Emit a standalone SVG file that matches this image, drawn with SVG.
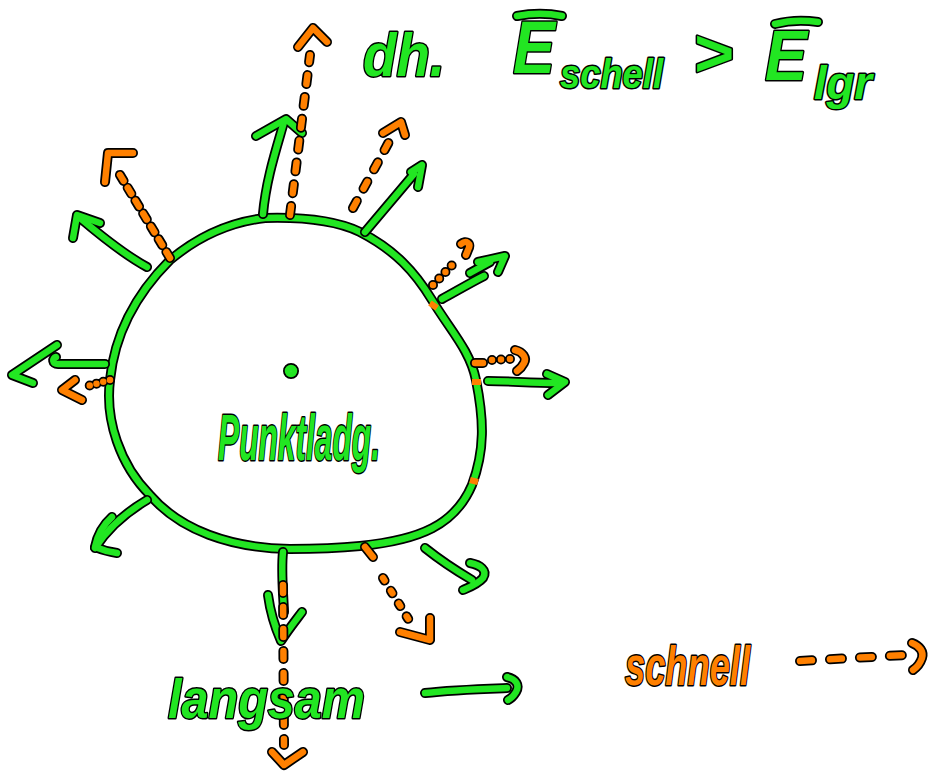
<svg xmlns="http://www.w3.org/2000/svg" xmlns:xlink="http://www.w3.org/1999/xlink" width="931" height="771" viewBox="0 0 931 771">
<style>
.bg{fill:#ffffff}
.ko{fill:none;stroke:#000000;stroke-width:10;stroke-linecap:round;stroke-linejoin:round}
.gf{fill:none;stroke:#22e622;stroke-width:6.5;stroke-linecap:round;stroke-linejoin:round}
.of{fill:none;stroke:#ff8000;stroke-width:6.5;stroke-linecap:round;stroke-linejoin:round}
.tick{fill:none;stroke:#ff8000;stroke-width:6;stroke-linecap:butt}
.hand{font-family:"Liberation Sans","DejaVu Sans",sans-serif;font-style:italic;font-weight:bold;paint-order:stroke;stroke:#000000;stroke-width:3;stroke-linejoin:round}
.gt{fill:#22e622}
.ot{fill:#ff8000}
</style>
<defs>
<g id="greenArrows">
<path d="M263,214 C266,180 276,150 284,122"/>
<path d="M256,136 L286,119 L302,133"/>
<path d="M365,232 L414,174"/>
<path d="M411,172 L422,165 L418,187"/>
<path d="M442,299 C455,292 470,283 484,276"/>
<path d="M470,273 L490,262"/>
<path d="M478,262 L505,256 L498,272"/>
<path d="M488,381 C510,381 530,383 558,383"/>
<path d="M547,374 L565,382 L548,395"/>
<path d="M425,548 C440,560 455,570 472,580"/>
<path d="M470,563 C480,565 488,570 483,578 C478,584 470,587 463,590"/>
<path d="M283,552 C281,570 283,590 284,612"/>
<path d="M268,595 C270,610 274,625 281,641 C288,630 296,620 302,612"/>
<path d="M147,500 C130,510 110,525 95,548"/>
<path d="M112,517 C103,525 97,537 95,547 C102,550 110,552 117,553"/>
<path d="M105,364 L58,364 C52,364 52,358 56,357"/>
<path d="M57,345 L12,375 L33,383"/>
<path d="M147,267 C125,255 100,235 80,218"/>
<path d="M100,223 L77,215 L73,238"/>
<path d="M425,693 C450,690 480,689 507,688"/>
<path d="M507,677 C516,679 520,685 516,692 C513,697 510,699 508,700"/>
</g>
<g id="orangeArrows">
<path d="M290,215 L310,55" stroke-dasharray="9 13"/>
<path d="M298,47 L313,28 L327,42"/>
<path d="M353,208 L390,140" stroke-dasharray="8 14"/>
<path d="M383,133 L401,122 L405,135"/>
<path d="M433,285 L455,262" stroke-dasharray="0 9"/>
<path d="M461,244 C466,240 472,243 468,250 L466,255"/>
<path d="M475,363 L483,363"/>
<path d="M492,360 L510,359" stroke-dasharray="0 9"/>
<path d="M515,350 C523,352 527,358 524,363 C522,367 520,369 517,371"/>
<path d="M170,258 L117,170" stroke-dasharray="7 8"/>
<path d="M105,182 L108,153 L133,153"/>
<path d="M110,380 L84,387" stroke-dasharray="0 7"/>
<path d="M75,380 L62,390 L82,400"/>
<path d="M283,585 L284,745" stroke-dasharray="8 14"/>
<path d="M272,752 L284,765 L303,752"/>
<path d="M365,547 L373,557"/>
<path d="M383,578 L412,625" stroke-dasharray="3 12"/>
<path d="M400,632 L430,640 L430,618"/>
<path d="M800,661 L905,655" stroke-dasharray="12 18"/>
<path d="M912,643 C920,646 924,652 922,658 C920,664 916,668 913,670"/>
</g>
</defs>
<rect class="bg" x="0" y="0" width="931" height="771"/>
<g id="charge">
<path class="ko" d="M265,218 C300,217 335,220 360,232 C395,250 415,272 432,300 C450,330 470,350 476,380 C484,420 485,450 472,485 C455,525 420,540 360,546 C330,549 310,549 290,549 C230,548 180,530 150,495 C120,465 105,420 110,380 C115,330 140,290 170,260 C200,235 230,222 265,218 Z"/>
<path class="gf" d="M265,218 C300,217 335,220 360,232 C395,250 415,272 432,300 C450,330 470,350 476,380 C484,420 485,450 472,485 C455,525 420,540 360,546 C330,549 310,549 290,549 C230,548 180,530 150,495 C120,465 105,420 110,380 C115,330 140,290 170,260 C200,235 230,222 265,218 Z"/>
<circle class="ko" cx="291" cy="371" r="3"/>
<circle class="gf" cx="291" cy="371" r="3"/>
<text class="hand gt" x="218" y="460" font-size="64" textLength="162" lengthAdjust="spacingAndGlyphs">Punktladg.</text>
</g>
<g id="connectors">
<use xlink:href="#greenArrows" class="ko"/>
<use xlink:href="#greenArrows" class="gf"/>
<use xlink:href="#orangeArrows" class="ko"/>
<use xlink:href="#orangeArrows" class="of"/>
<path class="tick" d="M430,303 L437,308"/>
<path class="tick" d="M472,382 L481,382"/>
<path class="tick" d="M470,480 L478,482"/>
</g>
<g id="heading">
<text class="hand gt" x="363" y="76" font-size="62" textLength="82" lengthAdjust="spacingAndGlyphs">dh.</text>
<path class="ko" d="M517,16 C532,13 548,13 562,16"/>
<path class="gf" d="M517,16 C532,13 548,13 562,16"/>
<text class="hand gt" x="513" y="73" font-size="74" textLength="42" lengthAdjust="spacingAndGlyphs">E</text>
<text class="hand gt" x="560" y="88" font-size="40" textLength="103" lengthAdjust="spacingAndGlyphs">schell</text>
<text class="hand gt" x="693" y="76" font-size="66" textLength="40" lengthAdjust="spacingAndGlyphs">&gt;</text>
<path class="ko" d="M775,24 C790,20 805,20 818,22"/>
<path class="gf" d="M775,24 C790,20 805,20 818,22"/>
<text class="hand gt" x="765" y="80" font-size="70" textLength="42" lengthAdjust="spacingAndGlyphs">E</text>
<text class="hand gt" x="814" y="99" font-size="46" textLength="58" lengthAdjust="spacingAndGlyphs">lgr</text>
</g>
<g id="legend">
<text class="hand gt" x="168" y="718" font-size="56" textLength="197" lengthAdjust="spacingAndGlyphs">langsam</text>
<text class="hand ot" x="625" y="685" font-size="56" textLength="125" lengthAdjust="spacingAndGlyphs">schnell</text>
</g>
</svg>
